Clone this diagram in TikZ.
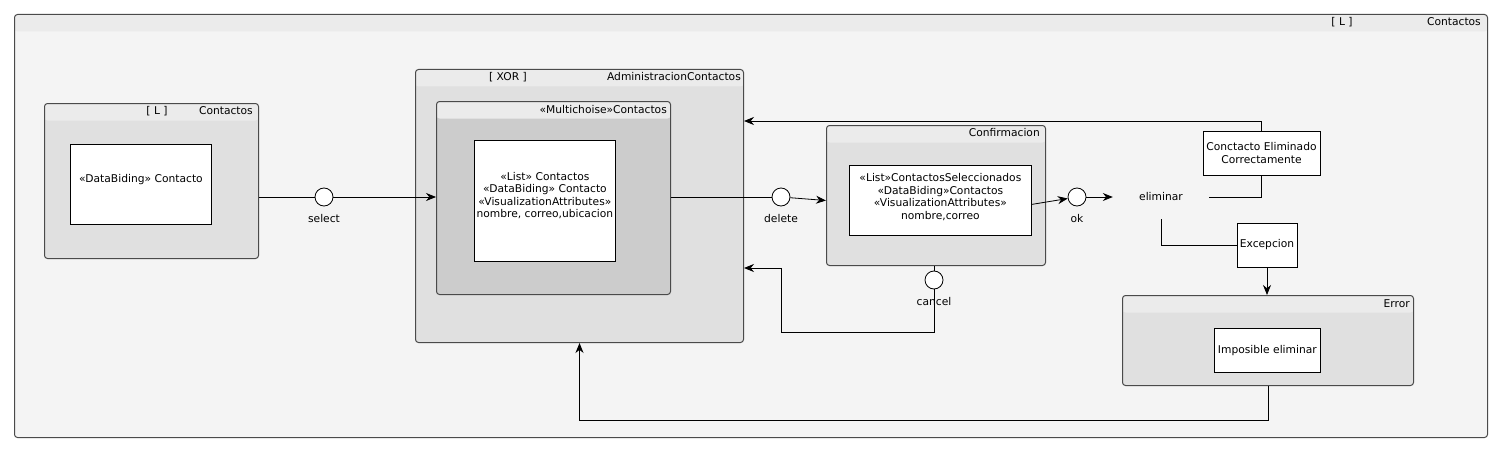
\documentclass[tikz,border=0pt]{standalone}
\usepackage{fontspec}
\setmainfont{DejaVu Sans}
\usetikzlibrary{positioning,arrows.meta}
\definecolor{framebg}{HTML}{F4F4F4}
\definecolor{hdrbg}{HTML}{EBEBEB}
\definecolor{statebg}{HTML}{E0E0E0}
\definecolor{multibg}{HTML}{CCCCCC}
\definecolor{edge}{HTML}{4A4A4A}

\begin{document}
\begin{tikzpicture}[
    x=1pt, y=-1pt,
    font=\fontsize{10.7}{12.6}\selectfont,
    state/.style={draw=edge, line width=1pt, rounded corners=3pt, fill=#1,
        anchor=north west, inner sep=0pt,
        path picture={\fill[hdrbg] (path picture bounding box.north west)
            rectangle ([yshift=-17pt]path picture bounding box.north east);}},
    state/.default=statebg,
    wbox/.style={draw, line width=0.8pt, fill=white, anchor=north west,
        inner sep=0pt, align=center},
    hdr/.style={inner sep=0pt, anchor=east},
    port/.style={circle, draw, fill=white, minimum size=18pt, inner sep=0pt,
        line width=0.8pt},
    link/.style={line width=0.8pt},
    arr/.style={-{Stealth[length=10pt,width=8pt]}}]
    \useasboundingbox (0,0) rectangle (1500,452);
    \fill[white] (0,0) rectangle (1500,452);

    % Rahmen
    \node[state=framebg, minimum width=1473, minimum height=423] (main) at (14,14) {};
    \node[hdr] (maintitle) at (1481,22) {Contactos};
    \node[hdr, anchor=center] (maintag) at (1342,22) {[ L ]};

    % Contactos
    \node[state, minimum width=214, minimum height=155] (list) at (44,103) {};
    \node[hdr] (listtitle) at (253,111) {Contactos};
    \node[hdr, anchor=center] (listtag) at (157,111) {[ L ]};
    \node[wbox, minimum width=141, minimum height=80, text depth=12pt] (listdata) at (70,144)
        {«DataBiding» Contacto};

    % AdministracionContactos
    \node[state, minimum width=328, minimum height=273] (admin) at (415,69) {};
    \node[hdr] (admintitle) at (741,77) {AdministracionContactos};
    \node[hdr, anchor=center] (admintag) at (508,77) {[ XOR ]};
    \node[state=multibg, minimum width=234, minimum height=193] (multi) at (436,101) {};
    \node[hdr] (multititle) at (667,110) {«Multichoise»Contactos};
    \node[wbox, minimum width=141, minimum height=121, text depth=12pt] (multidata) at (474,140)
        {«List» Contactos\\«DataBiding» Contacto\\«VisualizationAttributes»\\nombre, correo,ubicacion};

    % Confirmacion
    \node[state, minimum width=219, minimum height=140] (conf) at (826,125) {};
    \node[hdr] (conftitle) at (1040,133) {Confirmacion};
    \node[wbox, minimum width=182, minimum height=70, text depth=8pt] (confdata) at (849,165)
        {«List»ContactosSeleccionados\\«DataBiding»Contactos\\«VisualizationAttributes»\\nombre,correo};

    % eliminar
    \node[minimum width=96, minimum height=44] (elim) at (1161,197) {eliminar};
    \node[wbox, anchor=center, minimum width=117, minimum height=44] (okmsg) at (1261.5,153)
        {Conctacto Eliminado\\Correctamente};
    \node[wbox, anchor=center, minimum width=60, minimum height=44] (exc) at (1267,245) {Excepcion};

    % Error
    \node[state, minimum width=291, minimum height=90] (err) at (1122,295) {};
    \node[hdr] (errtitle) at (1410,304) {Error};
    \node[wbox, minimum width=106, minimum height=44] (errdata) at (1214,328) {Imposible eliminar};

    % Ports
    \node[port] (select) at (324,197) {};
    \node[below=4pt of select] (selectlbl) {select};
    \node[port] (delete) at (781,197) {};
    \node[below=4pt of delete] (deletelbl) {delete};
    \node[port] (ok) at (1077,197) {};
    \node[below=4pt of ok] (oklbl) {ok};
    \node[port] (cancel) at (934,280) {};
    \node[below=4pt of cancel] (cancellbl) {cancel};

    % Uebergaenge
    \draw[link] (select -| list.east) -- (select);
    \draw[link, arr] (select) -- (select -| multi.west);
    \draw[link] (delete -| multi.east) -- (delete);
    \draw[link, arr] (delete) -- ([yshift=-5pt]conf.west);
    \draw[link, arr] ([yshift=-4pt]confdata.east) -- (ok);
    \draw[link, arr] (ok) -- (elim);
    \draw[link] (elim.east) -| (okmsg.south);
    \draw[link, arr] (okmsg.north) |- ([yshift=-52pt]admin.north east);
    \draw[link] (elim.south) |- (exc.west);
    \draw[link, arr] (exc.south) -- (exc.south |- err.north);
    \draw[link, arr] (err.south) -- ++(0,34) -| (admin.south);
    \draw[link] (cancel |- conf.south) -- (cancel);
    \coordinate (cancelturn) at (781,332);
    \draw[link, arr] (cancel) |- (cancelturn) |- ([yshift=-62pt]admin.east);
\end{tikzpicture}
\end{document}
